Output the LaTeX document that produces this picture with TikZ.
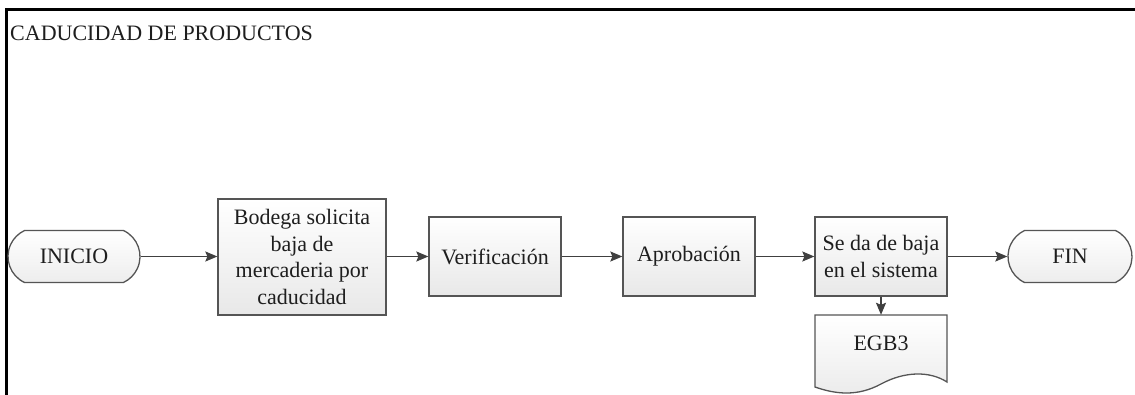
\documentclass[tikz,border=0pt]{standalone}
\usepackage{fontspec}
\setmainfont{Liberation Serif}
\usetikzlibrary{arrows.meta,shapes.misc}
\definecolor{ink}{HTML}{1E1E1E}
\definecolor{edge}{HTML}{555555}
\definecolor{wire}{HTML}{404040}
\begin{document}
\begin{tikzpicture}[x=1pt,y=-1pt,
  every node/.style={text=ink,font=\fontsize{22}{26.5}\selectfont},
  procbox/.style={draw=edge,line width=1.3pt,top color=white,bottom color=gray!18,
    minimum width=132pt,minimum height=79pt,inner sep=0pt,align=center},
  termbox/.style={draw=edge,line width=1.3pt,top color=white,bottom color=gray!14,
    rounded rectangle,rounded rectangle arc length=130,
    minimum width=132pt,minimum height=52pt,inner sep=0pt},
  flow/.style={draw=wire,line width=1.4pt,-{Stealth[length=12pt,width=10pt,inset=2pt]}}]
\useasboundingbox (0,0) rectangle (1135,394);
\clip (0,0) rectangle (1135,394);
\fill[white] (0,0) rectangle (1135,394);
% outer frame (only top and left edges fall inside the page)
\draw[black,line width=2.4pt] (6.5,420) -- (6.5,9.5) -- (1160,9.5);
\node[anchor=base west,inner sep=0pt] (title) at (10,40) {CADUCIDAD DE PRODUCTOS};

% process chain
\node[termbox] (ini) at (74,256.5) {INICIO};
\node[procbox,minimum width=168pt,minimum height=116pt] (bod) at (302,257)
  {Bodega solicita\\baja de\\mercaderia por\\caducidad};
\node[procbox] (ver) at (495,256.5) {Verificación};
\node[procbox] (apr) at (689,256.5) {Aprobación};
\node[procbox] (sed) at (881,256.5) {Se da de baja\\en el sistema};
\node[termbox,minimum width=124pt] (fin) at (1070,256.5) {FIN};

% document output
\shade[top color=white,bottom color=gray!16,draw=edge,line width=1.3pt]
  (815,315) -- (947,315) -- (947,382)
  .. controls (930,371) and (905,371) .. (881,384)
  .. controls (857,397) and (835,394) .. (815,387) -- cycle;
\node[minimum width=132pt,minimum height=56pt,inner sep=0pt] (egb) at (881,343) {EGB3};

% connectors
\draw[flow] (ini.east) -- (ini.east -| bod.west);
\draw[flow] (bod.east |- ver.west) -- (ver.west);
\draw[flow] (ver.east) -- (apr.west);
\draw[flow] (apr.east) -- (sed.west);
\draw[flow] (sed.east) -- (fin.west);
\draw[flow] (sed.south) -- (egb.north);
\end{tikzpicture}
\end{document}
